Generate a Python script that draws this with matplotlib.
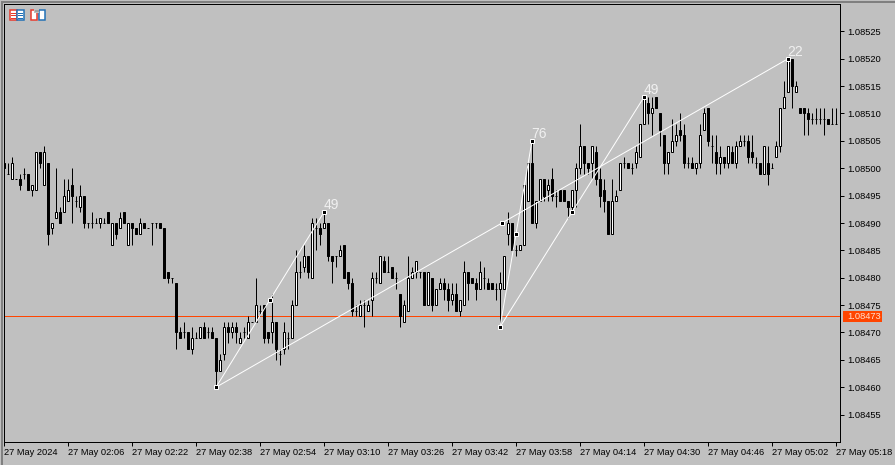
import numpy as np
import matplotlib
matplotlib.use("Agg")
import matplotlib.pyplot as plt
from matplotlib.patches import Rectangle
from matplotlib.ticker import FormatStrFormatter

W = 895
H = 465
BG = "#C0C0C0"
ORANGE = "#FF4500"
PX = 0.72  # one pixel in points at dpi 100
FONT = "Liberation Sans"

# prices in points above 1.08000, one candle per minute
opens = [501,499,498,498,498,499,499,496,496,503,
         497,501,489,491,492,492,494,497,494,493,
         495,490,490,490,490,490,492,486,490,489,
         492,486,490,489,488,490,489,490,490,490,
         489,481,480,479,470,470,470,467,469,469,
         471,470,470,469,463,466,471,470,471,468,
         470,469,472,472,474,475,470,470,472,466,
         467,469,469,475,481,482,484,480,489,489,
         489,490,484,484,484,486,481,479,474,473,
         475,474,476,480,479,483,481,482,480,477,
         472,474,480,481,481,481,475,480,475,478,
         479,478,476,477,474,475,481,480,479,478,
         480,479,479,478,478,478,488,490,485,485,
         486,494,501,490,494,498,496,498,495,496,
         496,494,493,496,500,504,501,501,503,498,
         496,494,488,494,496,501,501,500,501,502,
         508,512,510,513,510,506,501,503,505,507,
         506,501,501,500,501,507,511,504,503,501,
         502,501,503,501,504,505,505,503,501,501,
         499,501,500,502,504,511,514,520,514,511,
         511,510,509,509,509,509,509,508,508]
highs = [501,501,502,498,499,500,499,497,503,503,
         504,501,490,500,493,498,498,500,495,497,
         495,490,492,491,491,491,492,490,490,492,
         492,490,490,489,491,490,489,490,490,490,
         489,481,480,479,471,472,470,471,470,471,
         472,471,471,469,466,472,472,472,472,470,
         471,473,472,480,475,475,470,477,472,467,
         472,470,476,485,483,486,484,491,491,490,
         492,490,484,484,486,486,481,480,475,476,
         476,476,481,481,484,484,484,482,481,477,
         476,484,482,483,481,481,481,480,478,480,
         480,479,479,479,476,483,481,480,480,483,
         482,480,479,479,481,484,492,490,486,486,
         497,501,505,494,498,498,498,500,496,496,
         496,494,496,501,508,504,501,504,504,500,
         498,494,498,496,501,502,501,501,504,508,
         513,513,513,513,510,506,503,509,508,510,
         508,502,502,501,508,511,511,506,506,504,
         502,504,504,505,506,506,506,506,502,501,
         504,504,501,505,511,516,520,520,516,511,
         511,511,510,511,511,511,509,511,511]
lows = [500,499,498,498,496,498,496,495,496,500,
        497,486,488,491,490,492,494,490,493,492,
        489,489,489,490,489,490,490,486,487,489,
        490,486,486,488,488,489,489,486,489,489,
        480,479,479,467,469,469,467,466,469,469,
        469,469,469,460,463,465,468,469,468,468,
        469,469,472,472,473,468,468,468,465,464,
        466,467,469,475,480,481,480,480,485,486,
        489,483,479,482,484,480,478,473,473,473,
        471,474,473,479,479,481,481,480,478,471,
        472,474,480,480,480,475,475,474,475,478,
        476,474,475,474,473,475,476,479,476,478,
        478,478,478,476,471,478,486,485,484,485,
        486,494,490,489,494,494,494,494,493,494,
        494,491,492,493,499,499,499,498,497,493,
        492,488,488,494,496,500,500,499,500,502,
        508,508,506,511,504,499,499,503,504,505,
        500,500,500,499,500,507,504,501,499,499,
        500,500,501,500,504,504,501,501,500,499,
        499,497,500,502,503,511,514,511,514,510,
        506,506,508,508,508,506,508,508,508]
closes = [500,499,501,498,497,499,496,497,503,501,
          503,488,490,492,490,495,496,495,494,495,
          490,490,490,490,491,490,490,490,488,491,
          490,490,489,488,490,489,489,490,490,489,
          480,480,480,470,469,470,467,469,469,471,
          469,470,469,463,465,471,470,471,470,469,
          470,472,472,475,474,469,469,472,467,466,
          470,469,475,481,481,484,481,490,489,488,
          490,484,483,484,485,480,479,474,474,475,
          475,475,480,480,484,481,481,480,480,473,
          475,480,481,483,481,475,481,475,478,479,
          478,476,477,474,476,481,479,479,478,481,
          480,478,478,478,479,484,490,485,485,486,
          497,501,490,494,498,495,497,495,495,494,
          494,493,496,500,504,501,500,504,498,495,
          494,488,494,495,501,501,500,500,503,508,
          513,510,511,511,507,501,503,505,506,506,
          501,501,500,501,506,510,505,504,501,502,
          501,504,501,504,505,505,502,502,501,499,
          504,499,500,504,511,513,520,515,515,510,
          510,509,509,509,509,509,508,508,508]

time_labels = ["27 May 2024", "27 May 02:06", "27 May 02:22", "27 May 02:38",
               "27 May 02:54", "27 May 03:10", "27 May 03:26", "27 May 03:42",
               "27 May 03:58", "27 May 04:14", "27 May 04:30", "27 May 04:46",
               "27 May 05:02", "27 May 05:18"]
last_price = 473

# pattern legs: start and end (bar index, points), with the marker on the middle
leg_x0 = [53, 53, 124, 124]
leg_y0 = [460, 460, 471, 471]
leg_x1 = [80, 196, 132, 160]
leg_y1 = [492, 520, 505, 513]
mid_x = [66.5, 124.5, 128, 142]
mid_y = [476, 490, 488, 492]
leg_labels = ["49", "22", "76", "49"]


def to_price(points):
    return 1.08 + np.asarray(points) / 100000.0


def px_rect(x, y, w, h, fc="none", ec="none", lw=0):
    # rectangle given in image pixels, y from the top
    fig.add_artist(Rectangle((x / W, 1 - (y + h) / H), w / W, h / H, transform=fig.transFigure,
                             facecolor=fc, edgecolor=ec, linewidth=lw))


# the extra 0.01 stops 8.95 * 100 rounding down to 894 pixels
fig = plt.figure(figsize=((W + 0.01) / 100, (H + 0.01) / 100), dpi=100, facecolor=BG)
ax = fig.add_axes([4 / W, 1 - 442 / H, 836 / W, 438 / H], facecolor=BG)

x = np.arange(len(opens))
o = to_price(opens)
h = to_price(highs)
l = to_price(lows)
c = to_price(closes)

ax.vlines(x, l, h, color="black", linewidth=PX, zorder=3)
body_colors = ["white" if cl > op else "black" for op, cl in zip(opens, closes)]
ax.bar(x, c - o, bottom=o, width=0.5, color=body_colors, edgecolor="black", linewidth=PX, zorder=4)

ax.hlines(to_price(last_price), 0, 209, color=ORANGE, linewidth=PX, zorder=2)

for i in range(len(leg_x0)):
    ax.plot([leg_x0[i], leg_x1[i]], to_price([leg_y0[i], leg_y1[i]]), color="white",
            linewidth=PX, zorder=5)
    ax.annotate(leg_labels[i], (leg_x1[i], to_price(leg_y1[i])), xytext=(-0.2, 2.2),
                textcoords="offset points", color="#F0F0F0", fontsize=10,
                family="Liberation Sans", ha="left", va="baseline", zorder=7)

ax.plot(leg_x0 + leg_x1 + mid_x, to_price(leg_y0 + leg_y1 + mid_y), linestyle="none", marker="s",
        markersize=2.9, markerfacecolor="black", markeredgecolor="white", markeredgewidth=PX, zorder=6)

ax.set_xlim(0, 209)
ax.set_ylim(1.0845, 1.0853)

ax.yaxis.tick_right()
ax.set_yticks(to_price(np.arange(455, 530, 5)))
ax.yaxis.set_major_formatter(FormatStrFormatter("%.5f"))
ax.set_xticks(np.arange(0, 209, 16))
ax.set_xticklabels(time_labels, ha="left")
ax.tick_params(axis="both", length=3, width=PX, color="black", labelcolor="black",
               labelsize=6.7, pad=1.5)
ax.tick_params(axis="y", pad=2.2)
for lab in ax.get_xticklabels() + ax.get_yticklabels():
    lab.set_family(FONT)
for s in ax.spines.values():
    s.set_linewidth(PX)
    s.set_color("black")

# current price tag on the scale
px_rect(843, 311, 39, 11, fc=ORANGE)
fig.text(847 / W, 1 - 316 / H, "%.5f" % to_price(last_price), color="#FFE0D0", fontsize=6.7,
         family=FONT, va="center", ha="left")

# window edge
px_rect(1, 1, W - 1, 2, fc="#808080")
px_rect(1, 1, 2, H - 1, fc="#808080")

# the two toolbar icons
px_rect(9.5, 10.5, 7, 10, fc="white", ec="#E8392B", lw=1.08)
px_rect(16.5, 10.5, 7, 10, fc="white", ec="#1F6FB5", lw=1.08)
for yy in [13, 15.5, 18]:
    px_rect(11, yy, 5, 1, fc="#E8392B")
    px_rect(18, yy, 5, 1, fc="#1F6FB5")
px_rect(30.5, 10.5, 6, 10, fc="white", ec="#E8392B", lw=1.08)
px_rect(38.5, 10.5, 6, 10, fc="white", ec="#1F6FB5", lw=1.08)
px_rect(34, 9, 5, 4, fc=BG)
px_rect(35, 10, 4, 2, fc="#A0A0A0")

fig.savefig("out.png", dpi=100, facecolor=BG)
